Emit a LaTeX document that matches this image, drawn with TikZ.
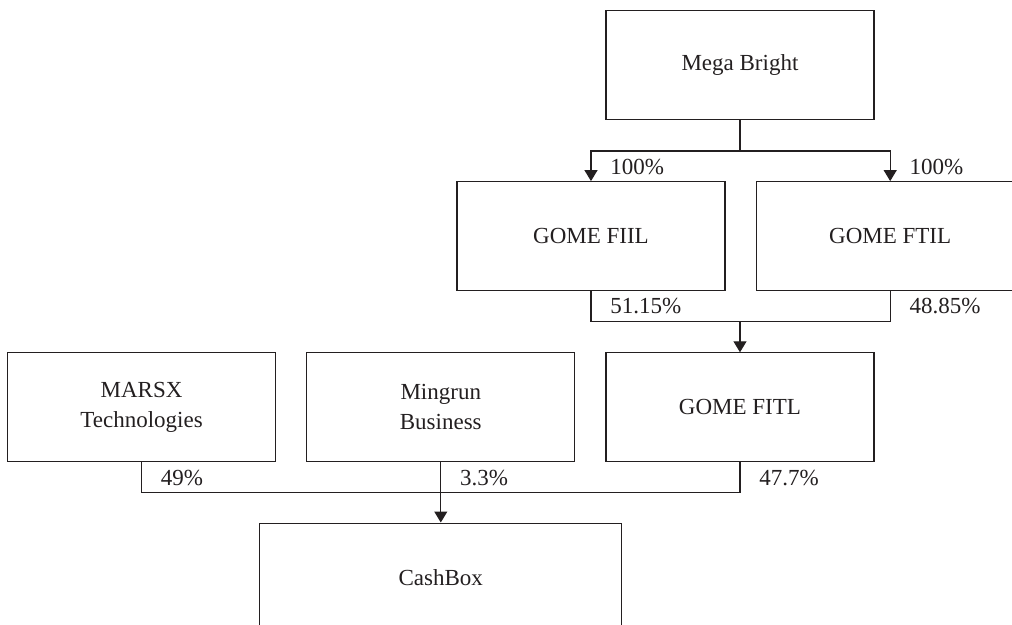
\documentclass[tikz,border=0pt]{standalone}
\usepackage{fontspec}
\setmainfont{Liberation Serif}
\usetikzlibrary{positioning}
\usetikzlibrary{arrows.meta}
\definecolor{ink}{RGB}{35,31,32}

\begin{document}
\begin{tikzpicture}[
                entitybox/.style={rectangle, draw=ink, line width=0.6pt, minimum width=134pt, minimum height=54.5pt, align=center, text=ink, inner sep=0pt, font=\fontsize{11.5pt}{15pt}\selectfont},
                widebox/.style={entitybox, minimum width=181pt},
                share/.style={anchor=base west, inner sep=0pt, text=ink, font=\fontsize{11.5pt}{14pt}\selectfont},
                link/.style={draw=ink, line width=0.6pt},
                arrow/.style={link, -{Triangle[length=5.5pt,width=6.5pt]}},
            ]
            \useasboundingbox (-370pt,32.5pt) rectangle (136pt,-280pt);
            \clip (-370pt,32.5pt) rectangle (136pt,-280pt);

            % Nodes
            \node[entitybox]        (mega)        at (0,0)                              {Mega Bright};

            \node[entitybox]        (gome_fiil)   [below=30.5pt of mega, xshift=-74.5pt]     {GOME FIIL};
            \node[entitybox]        (gome_ftil)   [right=15pt of gome_fiil]                  {GOME FTIL};

            \node[entitybox]        (gome_fitl)   [below=30.5pt of gome_fiil, xshift=74.5pt] {GOME FITL};
            \node[entitybox]        (mingrun)     [left=15pt of gome_fitl]                   {Mingrun\\Business};
            \node[entitybox]        (marsx)       [left=15pt of mingrun]                     {MARSX\\Technologies};

            \node[widebox]          (cashbox)     [below=30pt of mingrun]                    {CashBox};

            % Bus points
            \coordinate (top_bus) at ([yshift=-15.5pt]mega.south);
            \coordinate (mid_bus) at ([yshift=-15pt]gome_fiil.south -| gome_fitl.north);
            \coordinate (low_bus) at ([yshift=-15pt]mingrun.south);

            %Lines
            \draw[link] (mega.south) -- (top_bus);
            \draw[arrow] (top_bus) -| (gome_fiil.north);
            \draw[arrow] (top_bus) -| (gome_ftil.north);

            \draw[link] (gome_fiil.south) |- (mid_bus) -| (gome_ftil.south);
            \draw[arrow] (mid_bus) -- (gome_fitl.north);

            \draw[link] (marsx.south) |- (low_bus) -| (gome_fitl.south);
            \draw[arrow] (mingrun.south) -- (cashbox.north);

            % Shares
            \node[share] (pct_fiil)    at ([xshift=9.5pt, yshift=3.5pt]gome_fiil.north)  {100\%};
            \node[share] (pct_ftil)    at ([xshift=9.5pt, yshift=3.5pt]gome_ftil.north)  {100\%};
            \node[share] (pct_fiil_fitl) at ([xshift=9.5pt, yshift=-11pt]gome_fiil.south) {51.15\%};
            \node[share] (pct_ftil_fitl) at ([xshift=9.5pt, yshift=-11pt]gome_ftil.south) {48.85\%};
            \node[share] (pct_marsx)   at ([xshift=9.5pt, yshift=-11.5pt]marsx.south)    {49\%};
            \node[share] (pct_mingrun) at ([xshift=9.5pt, yshift=-11.5pt]mingrun.south)  {3.3\%};
            \node[share] (pct_fitl)    at ([xshift=9.5pt, yshift=-11.5pt]gome_fitl.south) {47.7\%};
        \end{tikzpicture}
\end{document}
